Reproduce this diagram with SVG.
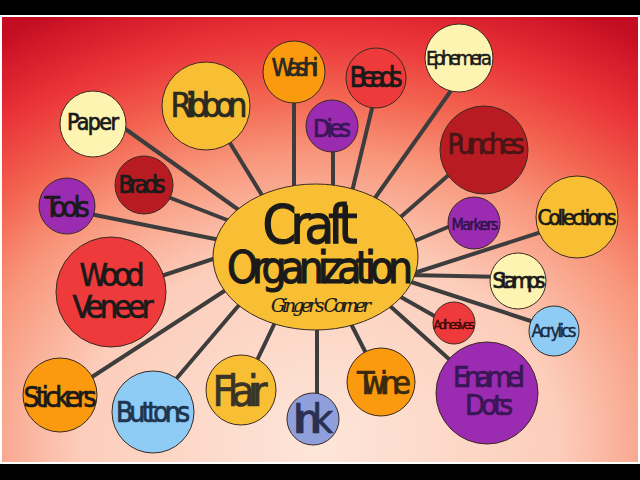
<svg xmlns="http://www.w3.org/2000/svg" width="640" height="480" viewBox="0 0 640 480">
<defs>
<radialGradient id="bg" gradientUnits="userSpaceOnUse" cx="320" cy="440" r="600" gradientTransform="translate(320 440) scale(1 0.8) translate(-320 -440)">
<stop offset="0" stop-color="#fde6da"/>
<stop offset="0.4" stop-color="#fccdba"/>
<stop offset="0.6" stop-color="#f8957a"/>
<stop offset="0.72" stop-color="#f36450"/>
<stop offset="0.85" stop-color="#ea3238"/>
<stop offset="1" stop-color="#c40c22"/>
</radialGradient>
<style>
.c{stroke:#3a2a20;stroke-width:1}
.pale{fill:#fdf4b2}.gold{fill:#f9bf34}.orange{fill:#fb9a0e}.purple{fill:#9b2bb0}
.red{fill:#ee3a3a}.dred{fill:#b81c22}.blue{fill:#8ecbf5}.peri{fill:#8f9fdc}
text{font-family:"DejaVu Sans Condensed","DejaVu Sans",sans-serif;fill:#1a1a1a;stroke:#1a1a1a;stroke-width:0.7;text-anchor:middle}
.t{lengthAdjust:spacingAndGlyphs}
#connectors line{stroke:#3d3d3d;stroke-width:4;stroke-linecap:butt}
</style>
</defs>
<rect x="0" y="0" width="640" height="480" fill="#000"/>
<rect x="0" y="15" width="640" height="449" fill="#fff"/>
<rect x="2" y="17" width="636" height="445" fill="url(#bg)"/>

<g id="connectors">
<line x1="110" y1="118" x2="250" y2="218"/>
<line x1="222" y1="130" x2="268" y2="205"/>
<line x1="294" y1="95" x2="294" y2="200"/>
<line x1="150" y1="190" x2="240" y2="225"/>
<line x1="85" y1="213" x2="230" y2="242"/>
<line x1="333" y1="140" x2="333" y2="200"/>
<line x1="374" y1="100" x2="350" y2="200"/>
<line x1="455" y1="85" x2="370" y2="205"/>
<line x1="460" y1="165" x2="395" y2="222"/>
<line x1="460" y1="222" x2="405" y2="245"/>
<line x1="560" y1="226" x2="408" y2="275"/>
<line x1="505" y1="277" x2="408" y2="275"/>
<line x1="540" y1="324" x2="405" y2="280"/>
<line x1="445" y1="322" x2="392" y2="292"/>
<line x1="470" y1="378" x2="380" y2="297"/>
<line x1="372" y1="365" x2="348" y2="318"/>
<line x1="317" y1="405" x2="317" y2="320"/>
<line x1="250" y1="375" x2="280" y2="312"/>
<line x1="165" y1="392" x2="245" y2="298"/>
<line x1="75" y1="388" x2="232" y2="286"/>
<line x1="140" y1="283" x2="225" y2="255"/>
</g>

<g id="center">
<ellipse cx="315.5" cy="257" rx="102.5" ry="73" class="c gold"/>
<text x="310" y="243" font-size="54" textLength="95" class="t" style="stroke-width:1.2">Craft</text>
<text x="320" y="283" font-size="44" textLength="186" class="t" style="stroke-width:1.1">Organization</text>
<text x="321" y="312" font-size="18" font-style="italic" textLength="100" class="t" style="font-family:'DejaVu Serif',serif;stroke-width:0.2">Ginger's Corner</text>
</g>

<g id="paper"><circle cx="93" cy="124" r="33" class="c pale"/><text x="93" y="130" font-size="23" textLength="52" class="t">Paper</text></g>
<g id="ribbon"><circle cx="206" cy="106" r="44" class="c gold"/><text x="209" y="117" font-size="34" textLength="77" class="t" style="fill:#2a2a20;stroke:#2a2a20">Ribbon</text></g>
<g id="washi"><circle cx="294" cy="72" r="31" class="c orange"/><text x="295" y="76" font-size="25" textLength="47" class="t" style="fill:#2a2a20;stroke:#2a2a20">Washi</text></g>
<g id="dies"><circle cx="332" cy="126" r="26" class="c purple"/><text x="332" y="137" font-size="25" textLength="38" class="t" style="fill:#3a1656;stroke:#3a1656">Dies</text></g>
<g id="beads"><circle cx="376" cy="78" r="30" class="c red"/><text x="376" y="87" font-size="28" textLength="53" class="t">Beads</text></g>
<g id="ephemera"><circle cx="459" cy="58" r="34" class="c pale"/><text x="459" y="65" font-size="20" textLength="66" class="t" style="stroke-width:0.4">Ephemera</text></g>
<g id="punches"><circle cx="484" cy="150" r="44" class="c dred"/><text x="486" y="154" font-size="28" textLength="77" class="t" style="fill:#4a1515;stroke:#4a1515">Punches</text></g>
<g id="markers"><circle cx="474" cy="223" r="26" class="c purple"/><text x="475" y="230" font-size="16" textLength="47" class="t" style="fill:#2a1448;stroke:#2a1448;stroke-width:0.4">Markers</text></g>
<g id="collections"><circle cx="577" cy="217" r="41" class="c gold"/><text x="577" y="225" font-size="22" textLength="79" class="t">Collections</text></g>
<g id="stamps"><circle cx="518" cy="281" r="28" class="c pale"/><text x="519" y="288" font-size="22" textLength="53" class="t">Stamps</text></g>
<g id="acrylics"><circle cx="554" cy="331" r="25" class="c blue"/><text x="554" y="337" font-size="18" textLength="45" class="t" style="fill:#1a2a40;stroke:#1a2a40;stroke-width:0.4">Acrylics</text></g>
<g id="adhesives"><circle cx="454" cy="323" r="21" class="c red"/><text x="454" y="329" font-size="13" textLength="41" class="t" style="fill:#3a0a0a;stroke:#3a0a0a;stroke-width:0.3">Adhesives</text></g>
<g id="enamel"><circle cx="487" cy="393" r="51" class="c purple"/><text x="489" y="387" font-size="29" textLength="72" class="t" style="fill:#3a1656;stroke:#3a1656">Enamel</text><text x="489" y="415" font-size="29" textLength="48" class="t" style="fill:#3a1656;stroke:#3a1656">Dots</text></g>
<g id="twine"><circle cx="381" cy="382" r="34" class="c orange"/><text x="384" y="394" font-size="32" textLength="54" class="t" style="fill:#3a2a10;stroke:#3a2a10">Twine</text></g>
<g id="ink"><circle cx="313" cy="419" r="26" class="c peri"/><text x="313" y="433" font-size="40" textLength="40" class="t" style="fill:#2a3050;stroke:#2a3050">Ink</text></g>
<g id="flair"><circle cx="241" cy="390" r="35" class="c gold"/><text x="240" y="406" font-size="42" textLength="55" class="t" style="fill:#3a3428;stroke:#3a3428">Flair</text></g>
<g id="buttons"><circle cx="153" cy="412" r="41" class="c blue"/><text x="153" y="422" font-size="28" textLength="74" class="t" style="fill:#1e3550;stroke:#1e3550">Buttons</text></g>
<g id="stickers"><circle cx="60" cy="395" r="37" class="c orange"/><text x="60" y="407" font-size="28" textLength="73" class="t">Stickers</text></g>
<g id="wood"><circle cx="111" cy="292" r="55" class="c red"/><text x="112" y="286" font-size="32" textLength="65" class="t">Wood</text><text x="113" y="318" font-size="32" textLength="81" class="t">Veneer</text></g>
<g id="tools"><circle cx="67" cy="206" r="28" class="c purple"/><text x="67" y="217" font-size="28" textLength="45" class="t">Tools</text></g>
<g id="brads"><circle cx="144" cy="185" r="29" class="c dred"/><text x="142" y="193" font-size="24" textLength="47" class="t">Brads</text></g>
</svg>
